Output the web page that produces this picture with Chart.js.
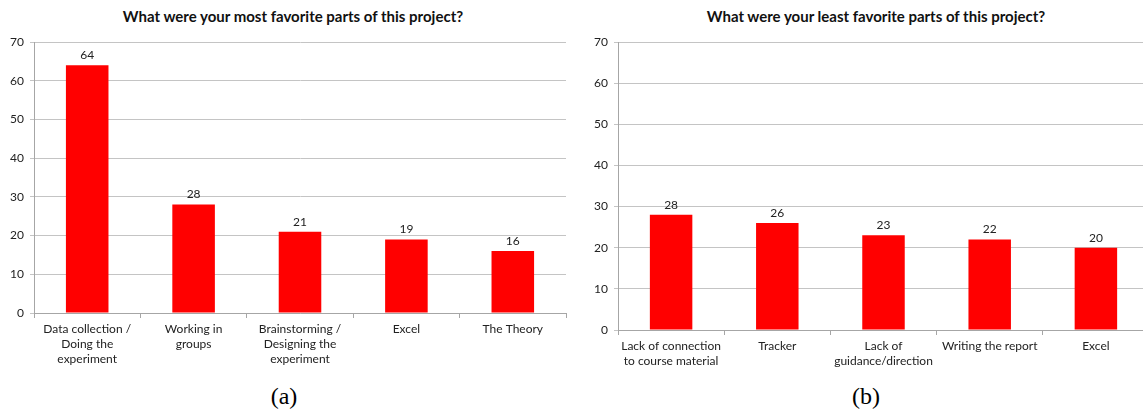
<!DOCTYPE html>
<html>
<head>
<meta charset="utf-8">
<script src="https://cdn.jsdelivr.net/npm/chart.js@4"></script>
<style>
  html, body { margin: 0; padding: 0; background: #fff; overflow: hidden; width: 1143px; height: 413px; }
  .box { position: absolute; top: 0; height: 380px; }
  .ttl { position: absolute; top: 7px; font: bold 15px Lato, "Open Sans", sans-serif; color: #111; white-space: nowrap; transform: translateX(-50%); }
  .cap { position: absolute; top: 383px; font: 24px "Liberation Serif", "DejaVu Serif", serif; color: #000; transform: translateX(-50%); }
</style>
</head>
<body>
<div class="ttl" style="left:293px">What were your most favorite parts of this project?</div>
<div class="ttl" style="left:876px">What were your least favorite parts of this project?</div>
<div class="box" style="left:0px;width:570px"><canvas id="mostFav"></canvas></div>
<div class="box" style="left:580px;width:569px"><canvas id="leastFav"></canvas></div>
<div class="cap" style="left:284px">(a)</div>
<div class="cap" style="left:866px">(b)</div>
<script>
var mostLabels = [['Data collection /', 'Doing the', 'experiment'], ['Working in', 'groups'], ['Brainstorming /', 'Designing the', 'experiment'], 'Excel', 'The Theory'];
var mostValues = [64, 28, 21, 19, 16];
var leastLabels = [['Lack of connection', 'to course material'], 'Tracker', ['Lack of', 'guidance/direction'], 'Writing the report', 'Excel'];
var leastValues = [28, 26, 23, 22, 20];
var yTicks = [0, 10, 20, 30, 40, 50, 60, 70];

var font = 'Lato, "Open Sans", sans-serif';

// value above each bar
var valueLabels = {
    id: 'valueLabels',
    afterDatasetsDraw: function(chart) {
        var ctx = chart.ctx;
        ctx.save();
        ctx.font = '12px ' + font;
        ctx.fillStyle = '#222';
        ctx.textAlign = 'center';
        ctx.textBaseline = 'bottom';
        chart.getDatasetMeta(0).data.forEach(function(bar, i) {
            ctx.fillText(chart.data.datasets[0].data[i], bar.x, bar.y - 4);
        });
        ctx.restore();
    }
};

function makeChart(id, labels, values, yWidth, xHeight, padRight) {
    var ctx = document.getElementById(id).getContext('2d');
    return new Chart(ctx, {
        type: 'bar',
        data: {
            labels: labels,
            datasets: [{
                data: values,
                backgroundColor: '#ff0000',
                borderWidth: 0,
                categoryPercentage: 1,
                barPercentage: 0.4
            }]
        },
        options: {
            responsive: true,
            maintainAspectRatio: false,
            animation: false,
            layout: { padding: { top: 42, right: padRight, left: 0, bottom: 0 } },
            plugins: { legend: { display: false }, tooltip: { enabled: false } },
            scales: {
                x: {
                    afterFit: function(s) { s.height = xHeight; },
                    grid: { display: true, drawOnChartArea: false, offset: true, tickLength: 5, color: '#a6a6a6' },
                    border: { color: '#a6a6a6' },
                    ticks: { color: '#222', font: { family: font, size: 12, lineHeight: 1.25 }, padding: 4, maxRotation: 0, autoSkip: false }
                },
                y: {
                    min: 0,
                    max: 70,
                    afterFit: function(s) { s.width = yWidth; },
                    afterBuildTicks: function(s) { s.ticks = yTicks.map(function(v) { return { value: v }; }); },
                    grid: { color: '#c4c4c4', tickLength: 4 },
                    border: { color: '#a6a6a6' },
                    ticks: { color: '#222', font: { family: font, size: 12 }, padding: 6 }
                }
            }
        },
        plugins: [valueLabels]
    });
}

makeChart('mostFav', mostLabels, mostValues, 34, 67, 4);
makeChart('leastFav', leastLabels, leastValues, 38, 50, 0);
</script>
</body>
</html>
